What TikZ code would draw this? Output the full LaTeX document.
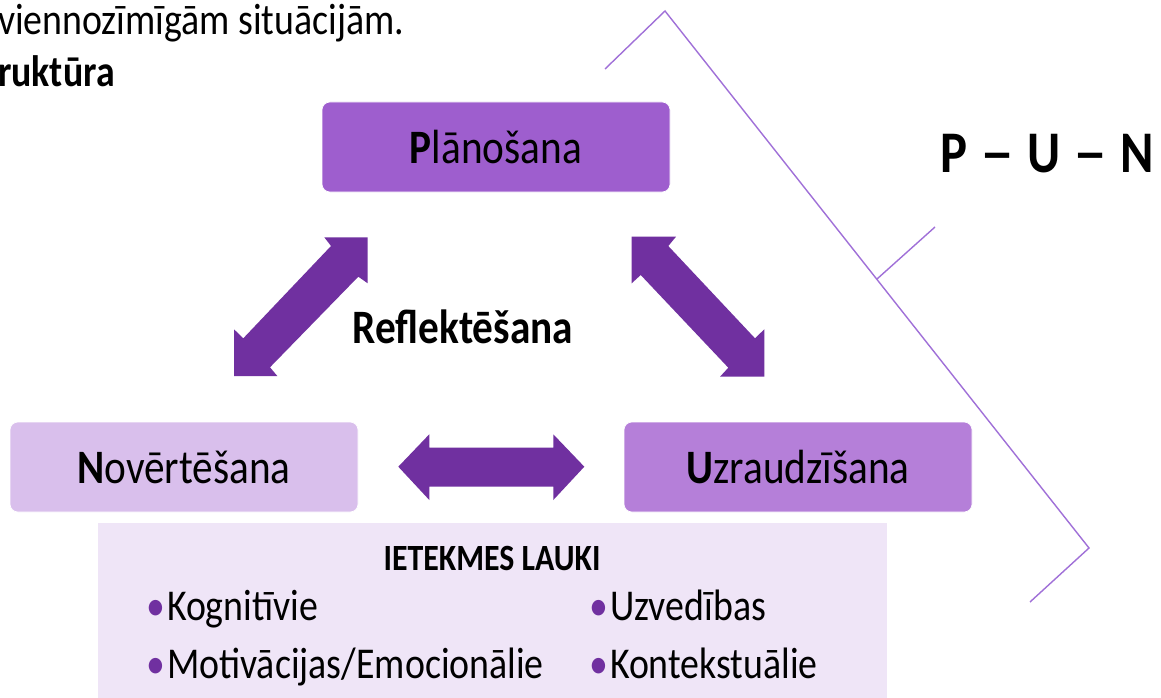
\documentclass[tikz,border=0pt]{standalone}
\usepackage{fontspec}
\usepackage{graphicx}
\setmainfont{Carlito}[FakeStretch=0.86]
\definecolor{arrowpurple}{HTML}{7030A0}
\definecolor{planfill}{HTML}{9E5ECE}
\definecolor{novfill}{HTML}{D9BFEC}
\definecolor{uzrfill}{HTML}{B57FD9}
\definecolor{iefill}{HTML}{EFE5F7}
\definecolor{brkline}{HTML}{A070D8}
\newcommand\setfs[1]{\fontsize{#1}{#1}\selectfont}
\newcommand\bul{\textcolor{arrowpurple}{•}\hspace{2pt}}
\newcommand\wdash{\hspace{13pt}\scalebox{1.35}[1]{–}\hspace{13pt}}
\begin{document}
\begin{tikzpicture}[x=1pt,y=-1pt,
  stagebox/.style={rounded corners=8pt, draw=white, line width=0.6pt, minimum width=348pt, minimum height=90pt, inner sep=0pt, font=\setfs{48}, text=black},
  blockarrow/.style={fill=arrowpurple, draw=none},
  brk/.style={draw=brkline, line width=1.4pt},
  txt/.style={inner sep=0pt, anchor=base west, text=black},
  item/.style={txt, font=\setfs{44}}]
\useasboundingbox (0,0) rectangle (1161,698);
\fill[white] (0,0) rectangle (1161,698);

% top-left text
\node[txt, font=\setfs{44}] (t1) at (-2,35) {viennozīmīgām situācijām.};
\node[txt, font=\setfs{44}\bfseries] (t2) at (-2,87) {ruktūra};

% bracket lines
\coordinate (b1) at (605,69);
\coordinate (b2) at (665,11);
\coordinate (b3) at (1089,548);
\coordinate (b4) at (1030,602);
\coordinate (m1) at (877,279);
\coordinate (m2) at (935,227);
\draw[brk] (b1) -- (b2) -- (b3) -- (b4);
\draw[brk] (m1) -- (m2);

\node[txt, font=\setfs{59}\bfseries] (pun) at (940,172) {P\wdash U\wdash N};

% influence box
\fill[iefill] (98,523) rectangle (887,698);
\node[inner sep=0pt, anchor=base, font=\setfs{37}\bfseries] (ie) at (492,570) {IETEKMES LAUKI};
\node[item] (k1) at (146,620) {\bul Kognitīvie};
\node[item] (k2) at (146,678) {\bul Motivācijas/Emocionālie};
\node[item] (k3) at (589,620) {\bul Uzvedības};
\node[item] (k4) at (589,678) {\bul Kontekstuālie};

% stage boxes
\node[stagebox, fill=planfill] (plan) at (496,147) {\textbf{P}lānošana};
\node[stagebox, fill=novfill] (nov) at (184,467) {\textbf{N}ovērtēšana};
\node[stagebox, fill=uzrfill] (uzr) at (798,467) {\textbf{U}zraudzīšana};

\node[inner sep=0pt, font=\setfs{48}\bfseries] (refl) at (463,327) {Reflektēšana};

% block arrows
\fill[blockarrow] (367.7,237.3) -- (324.3,237.3) -- (331,246) -- (243.3,338.3) -- (234,329.3) -- (234,376) -- (277.3,376) -- (270,367.3) -- (358.3,276.7) -- (367.7,283.3) -- cycle;
\fill[blockarrow] (631.7,236.7) -- (676,236.7) -- (668.3,246) -- (755,338.3) -- (764.3,329.3) -- (764.3,376.7) -- (720,376.7) -- (728.3,367.7) -- (640.7,275) -- (631.7,283.3) -- cycle;
\fill[blockarrow] (398.3,466.7) -- (429.3,434.3) -- (429.3,447.7) -- (553.3,447.7) -- (553.3,434.3) -- (584.3,466.7) -- (553.3,500) -- (553.3,486.7) -- (429.3,486.7) -- (429.3,500) -- cycle;
\end{tikzpicture}
\end{document}
